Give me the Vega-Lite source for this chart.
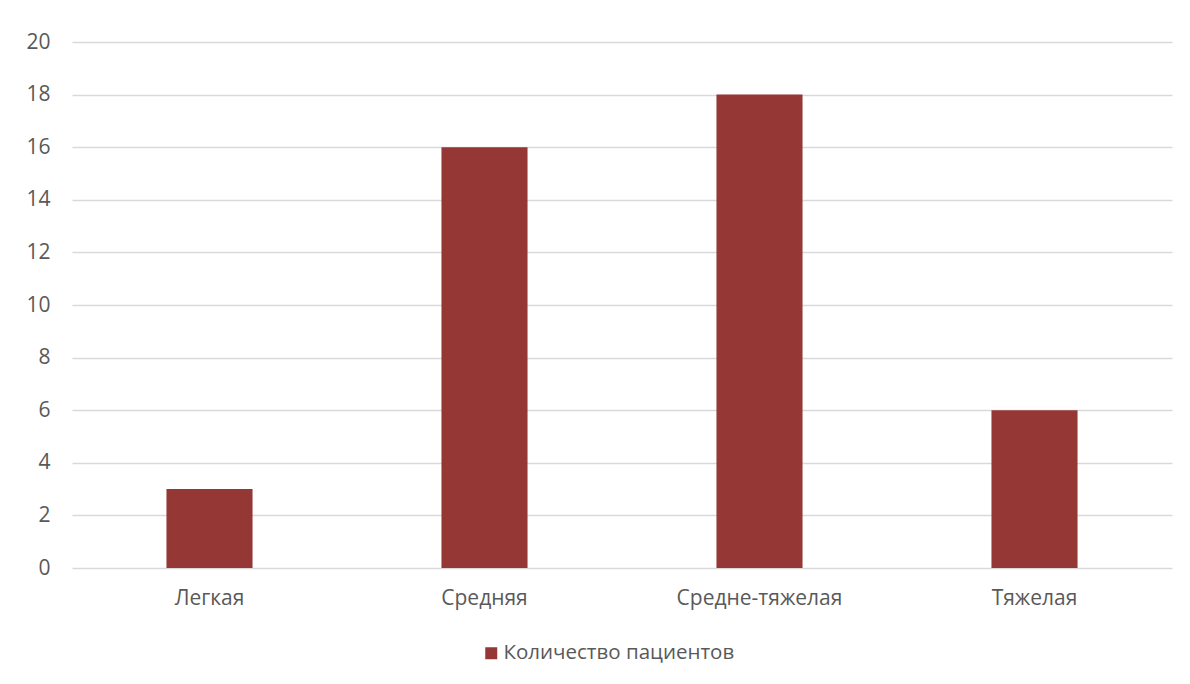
{
  "$schema": "https://vega.github.io/schema/vega-lite/v6.json",
  "width": 1100,
  "height": 526,
  "autosize": {"type": "none"},
  "padding": {"left": 72, "top": 42, "right": 18, "bottom": 116},
  "background": "white",
  "config": {
    "view": {"stroke": null},
    "font": "Open Sans",
    "axis": {"labelFont": "Open Sans", "labelColor": "#595959", "labelFontSize": 21, "gridColor": "#d9d9d9", "gridWidth": 1.5, "domain": false, "ticks": false},
    "legend": {"labelFont": "Open Sans", "labelColor": "#595959", "labelFontSize": 20.5, "labelLimit": 500}
  },
  "data": {
    "values": [
      {"severity": "Легкая", "count": 3, "series": "Количество пациентов"},
      {"severity": "Средняя", "count": 16, "series": "Количество пациентов"},
      {"severity": "Средне-тяжелая", "count": 18, "series": "Количество пациентов"},
      {"severity": "Тяжелая", "count": 6, "series": "Количество пациентов"}
    ]
  },
  "mark": {"type": "bar"},
  "encoding": {
    "x": {
      "field": "severity", "type": "nominal", "sort": null, "title": null,
      "scale": {"paddingInner": 0.687, "paddingOuter": 0.3435},
      "axis": {"labelAngle": 0, "labelPadding": 19, "grid": false}
    },
    "y": {
      "field": "count", "type": "quantitative", "title": null,
      "scale": {"domain": [0, 20], "nice": false},
      "axis": {"values": [0, 2, 4, 6, 8, 10, 12, 14, 16, 18, 20], "labelPadding": 22, "grid": true, "labelAlign": "right"}
    },
    "color": {
      "field": "series", "type": "nominal",
      "scale": {"range": ["#953735"]},
      "legend": {"title": null, "orient": "none", "legendX": 409, "legendY": 601, "symbolType": "square", "symbolSize": 144, "symbolStrokeWidth": 0, "labelOffset": 2}
    }
  }
}
